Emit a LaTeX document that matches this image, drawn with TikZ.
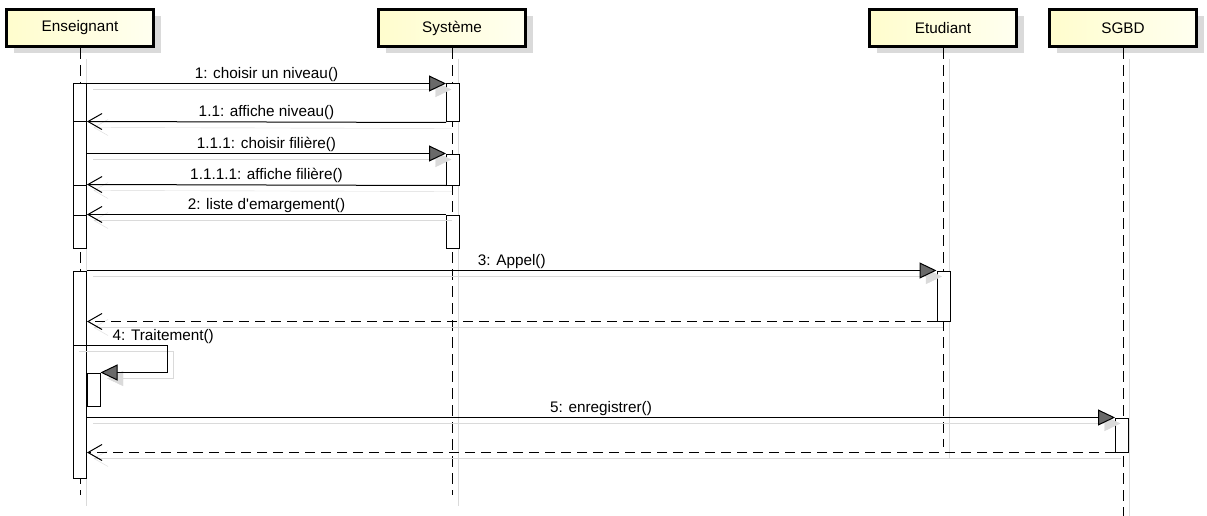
\documentclass[tikz,border=0pt]{standalone}
\usepackage{fontspec}
\setmainfont{Liberation Sans}
\usepackage{tikz}
\usetikzlibrary{arrows.meta,positioning,shadows}

\definecolor{boxleft}{RGB}{255,253,205}
\definecolor{boxright}{RGB}{255,255,240}
\definecolor{shadowgray}{RGB}{218,218,218}
\definecolor{arrowgray}{RGB}{105,105,105}

\begin{document}
\begin{tikzpicture}[
      x=1pt, y=-1pt,
      font=\fontsize{15.3}{18}\selectfont,
      lifebox/.style={draw, line width=3pt, minimum width=147pt, minimum height=37pt,
        left color=boxleft, right color=boxright,
        general shadow={fill=shadowgray, shadow xshift=7pt, shadow yshift=-7pt}},
      lifeline/.style={line width=1pt, dash pattern=on 11pt off 6pt,
        preaction={draw=shadowgray, solid, transform canvas={shift={(6pt,-11pt)}}}},
      act/.style={draw, fill=white, line width=1pt, minimum width=13pt, inner sep=0pt},
      lbl/.style={above, midway, inner sep=1.5pt},
      msg/.style={line width=1pt, -{Triangle[length=17pt,width=16pt,fill=arrowgray]},
        preaction={draw=shadowgray, -{Triangle[length=17pt,width=16pt,fill=shadowgray]},
          transform canvas={shift={(6pt,-6pt)}}}},
      reply/.style={line width=1pt, -{Straight Barb[length=14pt,width=16pt]},
        preaction={draw=shadowgray, solid, transform canvas={shift={(6pt,-6pt)}}}},
      ret/.style={reply, dash pattern=on 10pt off 6pt}
    ]
    \useasboundingbox (0,0) rectangle (1207,516);

    % lifeline ends
    \coordinate (ensend) at (80,495);
    \coordinate (sysend) at (452,495);
    \coordinate (etuend) at (943,447);
    \coordinate (dbend) at (1123,516);

    % participants
    \node[lifebox] (ens) at (80,28) {Enseignant};
    \node[lifebox] (sys) at (452,28) {Système};
    \node[lifebox] (etu) at (943,28) {Etudiant};
    \node[lifebox] (db) at (1123,28) {SGBD};

    \draw[lifeline] (ens.south) -- (ensend);
    \draw[lifeline] (sys.south) -- (sysend);
    \draw[lifeline] (etu.south) -- (etuend);
    \draw[lifeline] (db.south) -- (dbend);

    % activations
    \node[act, minimum height=38pt] (e1) at (80,103) {};
    \node[act, minimum height=63pt] (e2) at (80,153.5) {};
    \node[act, minimum height=30pt] (e3) at (80,200) {};
    \node[act, minimum height=33pt] (e4) at (80,231.5) {};
    \node[act, minimum height=207pt] (e5) at (80,374.5) {};
    \node[act, minimum height=33pt] (e6) at (93.5,389.5) {};
    \node[act, minimum height=38pt] (s1) at (453,103) {};
    \node[act, minimum height=31pt] (s2) at (453,169.5) {};
    \node[act, minimum height=33pt] (s3) at (453,231.5) {};
    \node[act, minimum height=50pt] (et1) at (943.5,296) {};
    \node[act, minimum height=34pt] (db1) at (1122,435) {};

    % messages
    \draw[msg] (e1.north east) -- node[lbl]{1: choisir un niveau()} (s1.north west);
    \draw[reply] (s1.south west) -- node[lbl]{1.1: affiche niveau()} (e2.north east);
    \draw[msg] (e2.east |- s2.north) -- node[lbl]{1.1.1: choisir filière()} (s2.north west);
    \draw[reply] (s2.south west) -- node[lbl]{1.1.1.1: affiche filière()} (e3.north east);
    \draw[reply] (s3.north west) -- node[lbl]{2: liste d\textquotesingle emargement()} (e4.north east);

    \draw[msg] (e5.north east) -- node[lbl]{3: Appel()} (et1.north west);
    \draw[ret] (et1.south west) -- (e5.east |- et1.south);

    % self call
    \draw[msg] (e5.north west) ++(0,75) -- node[above right, pos=0.4, inner sep=1.5pt]{4: Traitement()} ++(94,0) |- (e6.north east);

    \draw[msg] (e5.east |- db1.north) -- node[lbl]{5: enregistrer()} (db1.north west);
    \draw[ret] (db1.south west) -- (e5.east |- db1.south);
  \end{tikzpicture}
\end{document}
